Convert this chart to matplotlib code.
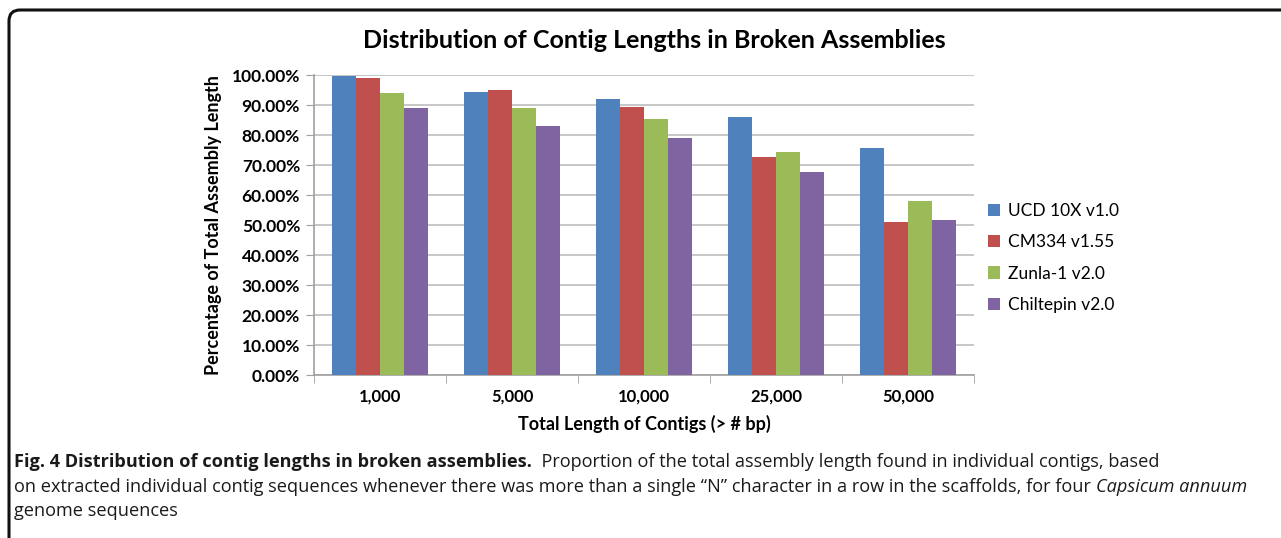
import matplotlib
matplotlib.use("Agg")
import matplotlib.pyplot as plt
import numpy as np
from matplotlib.patches import FancyBboxPatch

categories = ["1,000", "5,000", "10,000", "25,000", "50,000"]
series_names = ["UCD 10X v1.0", "CM334 v1.55", "Zunla-1 v2.0", "Chiltepin v2.0"]
ucd = [99.8, 94.2, 91.9, 86.1, 75.7]
cm334 = [99.0, 94.9, 89.4, 72.6, 50.9]
zunla = [93.9, 89.1, 85.2, 74.4, 58.1]
chiltepin = [89.1, 83.1, 78.9, 67.8, 51.8]
colors = ["#4F81BD", "#C0504D", "#9BBB59", "#8064A2"]

W, H = 1281, 538
fig = plt.figure(figsize=(W / 100, H / 100), dpi=100)
FONT = "Lato"
CAPFONT = ["Open Sans"]

# frame (pixel coordinates)
frame = FancyBboxPatch((9, -60), 1400, 60 + 538 - 10,
                       boxstyle="round,pad=0,rounding_size=11",
                       transform=None, fill=False,
                       edgecolor="#111111", linewidth=2.2)
fig.patches.append(frame)

ax = fig.add_axes([314 / W, (H - 375) / H, 660 / W, 300 / H])
x = np.arange(len(categories))
bw = 0.18
for i, (vals, name) in enumerate(zip([ucd, cm334, zunla, chiltepin], series_names)):
    ax.bar(x + (i - 1.5) * bw, vals, width=bw, color=colors[i], label=name, zorder=3)

ax.set_xlim(-0.5, len(categories) - 0.5)
ax.set_ylim(0, 100)
ax.set_yticks(np.arange(0, 101, 10))
ax.set_yticklabels([f"{v:.2f}%" for v in np.arange(0, 101, 10)],
                   fontfamily=FONT, fontweight="bold", fontsize=12.5)
ax.yaxis.grid(True, color="#BDBDBD", linewidth=1.2, zorder=0)
ax.set_xticks(x)
ax.set_xticklabels(categories, fontfamily=FONT, fontweight="bold", fontsize=12)
ax.set_xticks(np.arange(-0.5, len(categories), 1), minor=True)
ax.tick_params(axis="x", which="major", length=0, pad=10)
ax.tick_params(axis="x", which="minor", length=6, color="#A0A0A0", direction="out")
ax.tick_params(axis="y", length=6, color="#A0A0A0", pad=4)
for s in ["top", "right"]:
    ax.spines[s].set_visible(False)
ax.spines["left"].set_color("#A0A0A0")
ax.spines["bottom"].set_color("#A0A0A0")
ax.spines["left"].set_linewidth(1.2)
ax.spines["bottom"].set_linewidth(1.2)

ax.set_ylabel("Percentage of Total Assembly Length", fontfamily=FONT,
              fontweight="bold", fontsize=13, labelpad=7)
ax.set_xlabel("Total Length of Contigs (> # bp)", fontfamily=FONT,
              fontweight="bold", fontsize=13, labelpad=7)
fig.text(654 / W, 1 - 41 / H, "Distribution of Contig Lengths in Broken Assemblies",
         ha="center", va="center", fontfamily=FONT, fontweight="bold", fontsize=18)

leg = ax.legend(loc="center left", bbox_to_anchor=(972 / W, 1 - 258 / H),
                bbox_transform=fig.transFigure, frameon=False,
                prop={"family": FONT, "size": 12.5}, handlelength=0.7,
                handleheight=0.7, handletextpad=0.45, labelspacing=0.88)

# caption
fig.canvas.draw()
renderer = fig.canvas.get_renderer()

def put_line(segments, x0, y0, size=13.1):
    xp = x0
    for txt, kw in segments:
        t = fig.text(xp / W, 1 - y0 / H, txt, ha="left", va="center",
                     fontsize=size, family=CAPFONT, color="#1a1a1a", **kw)
        bb = t.get_window_extent(renderer)
        xp += bb.width

put_line([("Fig. 4 Distribution of contig lengths in broken assemblies.", {"fontweight": "bold"}),
          ("  Proportion of the total assembly length found in individual contigs, based", {})],
         14, 462)
put_line([("on extracted individual contig sequences whenever there was more than a single \u201cN\u201d character in a row in the scaffolds, for four ", {}),
          ("Capsicum annuum", {"fontstyle": "italic"})], 14, 487)
put_line([("genome sequences", {})], 14, 511)

fig.savefig("out.png", dpi=100)
